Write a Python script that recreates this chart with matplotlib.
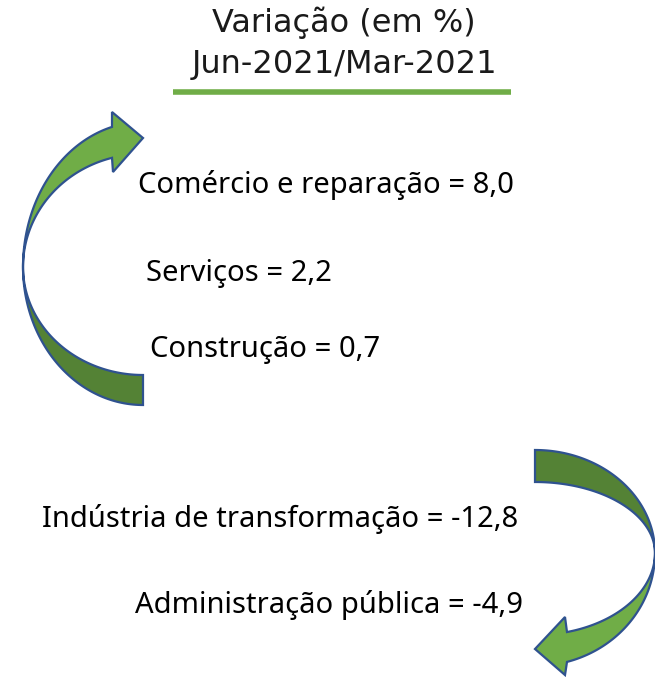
import numpy as np
import matplotlib.pyplot as plt
from matplotlib.patches import Polygon

title = ['Variação (em %)', 'Jun-2021/Mar-2021']
up_labels = ['Comércio e reparação', 'Serviços', 'Construção']
up_values = [8.0, 2.2, 0.7]
down_labels = ['Indústria de transformação', 'Administração pública']
down_values = [-12.8, -4.9]

light = '#70AD47'
dark = '#548235'
edge = '#2F528F'

fig = plt.figure(figsize=(6.55, 6.77), dpi=100)
ax = fig.add_axes([0, 0, 1, 1])
ax.set_xlim(0, 655)
ax.set_ylim(677, 0)
ax.axis('off')


def fmt(v):
    return ('%.1f' % v).replace('.', ',')


def arc(cx, cy, a, b, t0, t1, n=80):
    t = np.radians(np.linspace(t0, t1, n))
    return np.column_stack([cx + a*np.cos(t), cy + b*np.sin(t)])


def band(cx, cy, a, b_out, b_in, t0, t1):
    outer = arc(cx, cy, a, b_out, t0, t1)
    inner = arc(cx, cy, a, b_in, t1, t0)
    return np.vstack([outer, inner])


# title
ax.text(344, 23, title[0], ha='center', va='center', fontsize=23, family='DejaVu Sans',
        color='#1a1a1a')
ax.text(344, 64, title[1], ha='center', va='center', fontsize=23, family='DejaVu Sans',
        color='#1a1a1a')
ax.plot([173, 511], [92, 92], color=light, lw=4, solid_capstyle='butt')

# left arrow (pointing up)
cx, cy, a = 143, 267, 120
ax.add_patch(Polygon(band(cx, cy, a, 138, 108, 180, 90), closed=True,
                     fc=dark, ec=edge, lw=1.6))
t_end = 360 - np.degrees(np.arccos((112 - cx) / a))
outer = arc(cx, cy, a, 145, 180, t_end)
inner = arc(cx, cy, a, 113, t_end, 180)
head = np.array([[112, 112], [143, 138], [113, 172]])
ax.add_patch(Polygon(np.vstack([outer, head, inner]), closed=True,
                     fc=light, ec=edge, lw=1.6, joinstyle='miter'))

# right arrow (pointing down)
cx, cy, a = 535, 553, 120
ax.add_patch(Polygon(band(cx, cy, a, 103, 71, -90, 0), closed=True,
                     fc=dark, ec=edge, lw=1.6))
t_end = np.degrees(np.arccos((567 - cx) / a))
outer = arc(cx, cy, a, 113, 0, t_end)
inner = arc(cx, cy, a, 82, t_end, 0)
head = np.array([[565, 675], [535, 649], [565, 617]])
ax.add_patch(Polygon(np.vstack([outer, head, inner]), closed=True,
                     fc=light, ec=edge, lw=1.6, joinstyle='miter'))

# labels
up_pos = [(138, 185), (146, 273), (150, 350)]
for (x, y), lab, v in zip(up_pos, up_labels, up_values):
    ax.text(x, y, '%s = %s' % (lab, fmt(v)), ha='left', va='center',
            fontsize=21, family='Noto Sans')
down_pos = [(42, 519), (135, 605)]
for (x, y), lab, v in zip(down_pos, down_labels, down_values):
    ax.text(x, y, '%s = %s' % (lab, fmt(v)), ha='left', va='center',
            fontsize=21, family='Noto Sans')

fig.savefig('out.png', dpi=100)
